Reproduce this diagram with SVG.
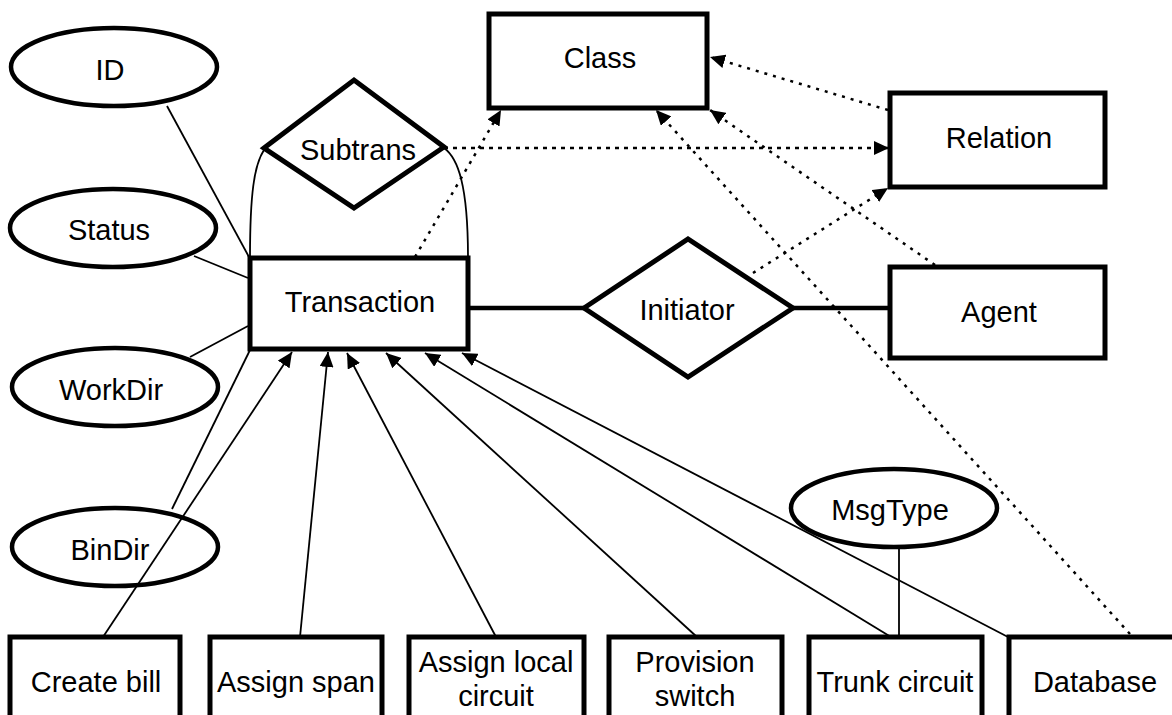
<svg xmlns="http://www.w3.org/2000/svg" width="1172" height="715" viewBox="0 0 1172 715">
<defs>
<style>
.box{fill:#fff;stroke:#000;stroke-width:5}
.ell{fill:#fff;stroke:#000;stroke-width:4.5}
.dia{fill:#fff;stroke:#000;stroke-width:5;stroke-linejoin:miter}
.lbl{font-family:"Liberation Sans",Arial,sans-serif;font-size:29px;fill:#000;text-anchor:middle}
.thin{fill:none;stroke:#000;stroke-width:1.8}
.thick{fill:none;stroke:#000;stroke-width:4.5}
.dot{fill:none;stroke:#000;stroke-width:2.5;stroke-dasharray:3 6}
.dash{fill:none;stroke:#000;stroke-width:2.5;stroke-dasharray:4 5}
</style>
<marker id="ah" markerUnits="userSpaceOnUse" markerWidth="16" markerHeight="14" refX="15" refY="7" orient="auto">
<path d="M0,0 L15,7 L0,14 z" fill="#000"/>
</marker>
</defs>
<rect width="1172" height="715" fill="#fff"/>

<g id="connectors">
<line class="thin" x1="167" y1="106" x2="249" y2="257"/>
<line class="thin" x1="194" y1="256" x2="248" y2="278"/>
<line class="thin" x1="190" y1="357" x2="248" y2="326"/>
<line class="thin" x1="172" y1="509" x2="250" y2="350"/>
<line class="thin" x1="899" y1="548" x2="899" y2="637"/>
<path class="thin" d="M264,150 C254,165 250,195 250,258"/>
<path class="thin" d="M444,148 C458,158 468,185 468,258"/>
<line class="thick" x1="468" y1="308" x2="584" y2="308"/>
<line class="thick" x1="793" y1="308" x2="890" y2="308"/>
<line class="thin" x1="103" y1="637" x2="292" y2="352" marker-end="url(#ah)"/>
<line class="thin" x1="300" y1="637" x2="328" y2="352" marker-end="url(#ah)"/>
<line class="thin" x1="496" y1="637" x2="347" y2="353" marker-end="url(#ah)"/>
<line class="thin" x1="697" y1="637" x2="386" y2="353" marker-end="url(#ah)"/>
<line class="thin" x1="891" y1="637" x2="425" y2="353" marker-end="url(#ah)"/>
<line class="thin" x1="1008" y1="637" x2="462" y2="353" marker-end="url(#ah)"/>
<line class="dot" x1="415" y1="257" x2="501" y2="110" marker-end="url(#ah)"/>
<line class="dash" x1="444" y1="148" x2="889" y2="148" marker-end="url(#ah)"/>
<line class="dot" x1="888" y1="110" x2="710" y2="57" marker-end="url(#ah)"/>
<line class="dot" x1="753" y1="273" x2="888" y2="188" marker-end="url(#ah)"/>
<line class="dot" x1="935" y1="265" x2="710" y2="110" marker-end="url(#ah)"/>
<line class="dot" x1="1130" y1="634" x2="656" y2="110" marker-end="url(#ah)"/>
</g>

<g id="class"><rect class="box" x="489" y="14" width="218" height="94" fill-opacity="0"/><text class="lbl" x="600" y="68">Class</text></g>
<g id="relation"><rect class="box" x="890" y="93" width="215" height="94" fill-opacity="0"/><text class="lbl" x="999" y="148">Relation</text></g>
<g id="agent"><rect class="box" x="890" y="267" width="215" height="91" fill-opacity="0"/><text class="lbl" x="999" y="322">Agent</text></g>
<g id="transaction"><rect class="box" x="250" y="258" width="218" height="91" fill-opacity="0"/><text class="lbl" x="360" y="312">Transaction</text></g>
<g id="subtrans"><polygon class="dia" points="264,148 354,80 444,147 354,208" fill-opacity="0"/><text class="lbl" x="358" y="160">Subtrans</text></g>
<g id="initiator"><polygon class="dia" points="584,308 688,239 793,308 688,377"/><text class="lbl" x="687" y="320">Initiator</text></g>
<g id="id"><ellipse class="ell" cx="114" cy="67" rx="103" ry="39"/><text class="lbl" x="110" y="80">ID</text></g>
<g id="status"><ellipse class="ell" cx="113" cy="228" rx="103" ry="39"/><text class="lbl" x="109" y="240">Status</text></g>
<g id="workdir"><ellipse class="ell" cx="115" cy="387" rx="103" ry="39"/><text class="lbl" x="111" y="400">WorkDir</text></g>
<g id="bindir"><ellipse class="ell" cx="115" cy="547" rx="103" ry="39" fill-opacity="0"/><text class="lbl" x="110" y="560">BinDir</text></g>
<g id="msgtype"><ellipse class="ell" cx="894" cy="508" rx="103" ry="39" fill-opacity="0"/><text class="lbl" x="890" y="520">MsgType</text></g>
<g id="createbill"><rect class="box" x="10" y="637" width="170" height="100"/><text class="lbl" x="96" y="692">Create bill</text></g>
<g id="assignspan"><rect class="box" x="210" y="637" width="172" height="100"/><text class="lbl" x="296" y="692">Assign span</text></g>
<g id="assignlocal"><rect class="box" x="409" y="637" width="175" height="100"/><text class="lbl" x="496" y="672">Assign local</text><text class="lbl" x="496" y="706">circuit</text></g>
<g id="provision"><rect class="box" x="609" y="637" width="173" height="100"/><text class="lbl" x="695" y="672">Provision</text><text class="lbl" x="695" y="706">switch</text></g>
<g id="trunk"><rect class="box" x="809" y="637" width="173" height="100"/><text class="lbl" x="895" y="692">Trunk circuit</text></g>
<g id="database"><rect class="box" x="1009" y="637" width="175" height="100"/><text class="lbl" x="1095" y="692">Database</text></g>
</svg>
